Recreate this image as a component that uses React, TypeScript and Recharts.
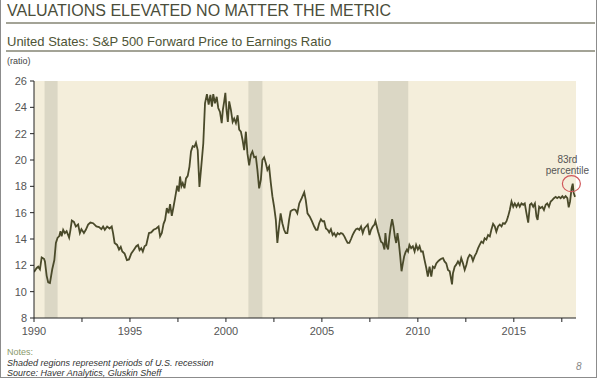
import React from "react";
import {
  LineChart,
  Line,
  XAxis,
  YAxis,
  CartesianGrid,
  ReferenceArea,
  ReferenceDot,
} from "recharts";

// forward P/E, split by decade
const years1990s = [
  1990.0, 1990.14, 1990.22, 1990.31, 1990.4, 1990.52, 1990.57, 1990.66, 1990.74, 1990.83,
  1990.95, 1991.06, 1991.14, 1991.23, 1991.31, 1991.38, 1991.44, 1991.52, 1991.61, 1991.7,
  1991.83, 1991.9, 1991.97, 1992.08, 1992.18, 1992.3, 1992.39, 1992.47, 1992.6, 1992.7,
  1992.82, 1992.94, 1993.08, 1993.25, 1993.39, 1993.51, 1993.6, 1993.69, 1993.81, 1993.94,
  1994.05, 1994.12, 1994.2, 1994.33, 1994.43, 1994.52, 1994.6, 1994.72, 1994.84, 1994.95,
  1995.07, 1995.19, 1995.33, 1995.42, 1995.5, 1995.59, 1995.67, 1995.76, 1995.85, 1995.99,
  1996.11, 1996.23, 1996.37, 1996.49, 1996.57, 1996.66, 1996.75, 1996.83, 1996.92, 1997.01,
  1997.09, 1997.18, 1997.27, 1997.35, 1997.46, 1997.54, 1997.61, 1997.68, 1997.75, 1997.84,
  1997.92, 1998.01, 1998.1, 1998.18, 1998.27, 1998.36, 1998.44, 1998.53, 1998.62, 1998.7,
  1998.82, 1998.91, 1999.01, 1999.1, 1999.19, 1999.27, 1999.34, 1999.43, 1999.52, 1999.6,
  1999.69, 1999.78, 1999.84, 1999.91, 1999.97,
];
const pe1990s = [
  11.5, 11.8, 11.9, 11.7, 12.6, 12.5, 12.3, 11.2, 10.7, 10.65,
  11.7, 12.4, 13.7, 14.1, 14.2, 14.6, 14.2, 14.7, 14.45, 14.6,
  14.1, 14.7, 15.4, 15.3, 14.95, 15.1, 14.45, 14.75, 14.45, 14.7,
  15.1, 15.25, 15.2, 14.95, 14.9, 14.75, 14.95, 14.7, 14.95, 14.8,
  14.95, 14.45, 13.7, 13.55, 13.2, 13.4, 13.05, 12.9, 12.4, 12.45,
  12.9, 13.15, 13.45, 13.55, 13.15, 13.3, 13.05, 13.45, 13.55, 14.45,
  14.5, 14.7, 14.8, 14.95, 14.2, 14.45, 15.15, 15.45, 16.35, 15.95,
  16.65, 15.75, 16.45, 17.1, 18.05, 17.6, 18.75, 18.0, 18.25, 17.85,
  18.6, 18.8, 19.5, 20.65, 21.05, 21.0, 21.3, 20.75, 17.95, 19.25,
  21.25, 24.3, 25.0, 24.2, 24.95, 24.05, 25.0, 24.3, 24.8, 23.95,
  23.65, 22.8, 23.8, 24.45, 25.1,
];

const years2000s = [
  2000.03, 2000.1, 2000.17, 2000.26, 2000.35, 2000.43, 2000.52, 2000.61, 2000.69, 2000.78,
  2000.87, 2000.95, 2001.04, 2001.12, 2001.21, 2001.3, 2001.38, 2001.47, 2001.56, 2001.64,
  2001.73, 2001.82, 2001.9, 2001.99, 2002.08, 2002.16, 2002.25, 2002.34, 2002.42, 2002.51,
  2002.6, 2002.68, 2002.77, 2002.85, 2002.94, 2003.03, 2003.11, 2003.2, 2003.29, 2003.37,
  2003.46, 2003.55, 2003.63, 2003.72, 2003.82, 2003.95, 2004.08, 2004.16, 2004.25, 2004.37,
  2004.48, 2004.6, 2004.69, 2004.77, 2004.86, 2004.95, 2005.03, 2005.12, 2005.21, 2005.3,
  2005.38, 2005.47, 2005.56, 2005.64, 2005.73, 2005.82, 2005.91, 2005.99, 2006.08, 2006.17,
  2006.25, 2006.34, 2006.43, 2006.52, 2006.6, 2006.69, 2006.78, 2006.86, 2006.95, 2007.04,
  2007.13, 2007.21, 2007.3, 2007.39, 2007.48, 2007.56, 2007.65, 2007.74, 2007.79, 2007.86,
  2007.93, 2008.0, 2008.08, 2008.17, 2008.26, 2008.31, 2008.38, 2008.45, 2008.52, 2008.59,
  2008.66, 2008.73, 2008.8, 2008.87, 2008.94, 2009.01, 2009.08, 2009.15, 2009.22, 2009.29,
  2009.36, 2009.43, 2009.49, 2009.56, 2009.65, 2009.74, 2009.83, 2009.91,
];
const pe2000s = [
  23.8, 22.9, 24.45, 23.8, 22.9, 23.15, 22.8, 23.4, 22.3, 22.15,
  21.5, 20.75, 22.15, 20.5, 19.6, 20.4, 20.65, 20.2, 20.25, 19.25,
  17.85, 18.5, 20.0, 20.2, 19.75, 19.25, 19.5, 18.25, 17.25, 16.45,
  15.45, 13.7, 14.95, 15.95, 15.2, 14.7, 14.45, 14.45, 15.45, 16.1,
  16.2, 16.25, 16.2, 15.95, 16.7, 17.1, 17.55, 16.95, 15.95, 15.7,
  15.35, 14.95, 14.7, 14.7, 15.2, 15.5, 15.35, 15.35, 14.8, 14.7,
  14.5, 14.75, 14.3, 14.45, 14.2, 14.45, 14.35, 14.45, 14.4, 14.2,
  13.95, 13.7, 13.7, 14.0, 14.3, 14.55, 14.75, 14.8, 14.7, 14.95,
  14.45, 14.8, 14.95, 15.1, 14.3, 14.7, 14.95, 15.1, 15.35, 14.95,
  14.55, 14.2, 13.8, 13.7, 13.2, 14.45, 13.45, 13.2, 14.2, 14.95,
  15.5, 14.95, 14.2, 13.7, 14.45, 13.7, 12.7, 11.55, 12.15, 12.7,
  13.0, 13.2, 13.05, 13.55, 13.3, 13.45, 13.05, 13.55,
];

const years2010s = [
  2010.0, 2010.09, 2010.17, 2010.26, 2010.35, 2010.44, 2010.52, 2010.61, 2010.7, 2010.78,
  2010.87, 2010.96, 2011.05, 2011.13, 2011.22, 2011.31, 2011.39, 2011.48, 2011.57, 2011.66,
  2011.71, 2011.78, 2011.83, 2011.92, 2012.0, 2012.09, 2012.18, 2012.26, 2012.35, 2012.44,
  2012.53, 2012.61, 2012.7, 2012.79, 2012.87, 2012.96, 2013.05, 2013.14, 2013.22, 2013.31,
  2013.4, 2013.48, 2013.57, 2013.66, 2013.75, 2013.83, 2013.92, 2014.01, 2014.09, 2014.18,
  2014.27, 2014.36, 2014.44, 2014.53, 2014.62, 2014.7, 2014.79, 2014.88, 2014.97, 2015.05,
  2015.14, 2015.23, 2015.31, 2015.4, 2015.49, 2015.57, 2015.66, 2015.75, 2015.84, 2015.92,
  2016.01, 2016.1, 2016.18, 2016.24, 2016.32, 2016.39, 2016.48, 2016.57, 2016.66, 2016.74,
  2016.83, 2016.92, 2017.0, 2017.09, 2017.18, 2017.26, 2017.35, 2017.44, 2017.53, 2017.61,
  2017.7, 2017.79, 2017.86, 2017.93, 2018.01, 2018.07, 2018.12, 2018.19,
];
const pe2010s = [
  13.2, 13.45, 13.05, 13.05, 12.4, 11.8, 11.15, 11.9, 11.15, 11.9,
  11.8, 12.15, 12.3, 12.4, 12.5, 12.55, 12.3, 12.15, 11.65, 11.55,
  11.15, 10.55, 11.4, 11.9, 12.05, 12.3, 12.05, 12.55, 12.15, 11.65,
  12.05, 12.55, 12.8, 12.7, 12.35, 12.7, 12.95, 13.3, 13.55, 13.8,
  13.7, 14.05, 13.95, 14.3, 14.2, 14.7, 15.15, 14.95, 14.55, 14.95,
  15.1, 14.95, 15.2, 15.15, 15.35, 15.7, 16.2, 16.85, 16.45, 16.7,
  16.45, 16.7, 16.45, 16.7, 16.6, 16.7, 15.95, 15.25, 16.6, 16.7,
  16.45, 16.7, 15.7, 15.45, 16.45, 16.35, 16.45, 16.2, 16.6, 16.7,
  16.45, 16.85, 16.95, 17.1, 17.2, 17.1, 17.2, 17.1, 17.25, 17.1,
  17.25, 17.1, 16.4, 16.85, 17.85, 18.2, 17.5, 17.2,
];

// US recessions (start / end, fractional year)
const recessionStarts = [1990.55, 2001.17, 2007.92];
const recessionEnds = [1991.23, 2001.9, 2009.5];

const yTicks = [8, 10, 12, 14, 16, 18, 20, 22, 24, 26];
const xTicks = [1990, 1992.5, 1995, 1997.5, 2000, 2002.5, 2005, 2007.5, 2010, 2012.5, 2015, 2017.5];

const latestYear = 2018.0;
const latestPe = 18.2;

const years = [...years1990s, ...years2000s, ...years2010s];
const pe = [...pe1990s, ...pe2000s, ...pe2010s];
const data = years.map((y, i) => ({ year: y, pe: pe[i] }));

const PercentileMarker = (props: any) => {
  const { cx, cy } = props;
  return (
    <g>
      <ellipse cx={cx} cy={cy} rx={9} ry={8} fill="none" stroke="#d0575a" strokeWidth={1.2} />
      <text x={cx - 4} y={cy - 21} textAnchor="middle" fontSize={10} fill="#555">
        83rd
      </text>
      <text x={cx - 4} y={cy - 10} textAnchor="middle" fontSize={10} fill="#555">
        percentile
      </text>
    </g>
  );
};

const App = () => {
  return (
    <div
      style={{
        position: "absolute",
        left: 0,
        top: 0,
        width: 600,
        height: 379,
        background: "#fff",
        fontFamily: "'Liberation Sans', Arial, sans-serif",
        overflow: "hidden",
      }}
    >
      <div
        style={{
          position: "absolute",
          left: 0,
          top: 0,
          width: 595,
          height: 377,
          borderLeft: "1px solid #8c8c8c",
          borderRight: "1px solid #8c8c8c",
          borderBottom: "1px solid #8c8c8c",
        }}
      />
      <div style={{ position: "absolute", left: 7, top: 2, fontSize: 16, lineHeight: "18px", color: "#4a4d3a", whiteSpace: "nowrap" }}>
        VALUATIONS ELEVATED NO MATTER THE METRIC
      </div>
      <div style={{ position: "absolute", left: 6, top: 22, width: 589, height: 2, background: "#a3a396" }} />
      <div style={{ position: "absolute", left: 7, top: 34, fontSize: 13, lineHeight: "15px", color: "#4e5436", whiteSpace: "nowrap" }}>
        United States: S&amp;P 500 Forward Price to Earnings Ratio
      </div>
      <div style={{ position: "absolute", left: 6, top: 50, width: 589, height: 2, background: "#a3a396" }} />
      <div style={{ position: "absolute", left: 7, top: 56, fontSize: 9, lineHeight: "10px", color: "#444" }}>(ratio)</div>

      <div style={{ position: "absolute", left: 0, top: 0 }}>
        <LineChart width={600} height={379} data={data} margin={{ top: 81, right: 24, bottom: 41, left: 4 }}>
          <CartesianGrid horizontal={false} vertical={false} fill="#f4eedb" stroke="none" />
          {recessionStarts.map((s, i) => (
            <ReferenceArea key={s} x1={s} x2={recessionEnds[i]} y1={8} y2={26} fill="#dbd7c5" fillOpacity={1} stroke="none" />
          ))}
          <XAxis
            dataKey="year"
            type="number"
            domain={[1990, 2018.24]}
            ticks={xTicks}
            interval={0}
            allowDataOverflow
            height={20}
            tickSize={4}
            tickMargin={5}
            stroke="#222"
            tick={{ fontSize: 11, fill: "#555" }}
            tickFormatter={(v) => (Number.isInteger(v) ? String(v) : "")}
          />
          <YAxis
            type="number"
            domain={[8, 26]}
            ticks={yTicks}
            interval={0}
            width={30}
            tickSize={4}
            tickMargin={3}
            stroke="#222"
            tick={{ fontSize: 11, fill: "#555" }}
          />
          <Line
            type="linear"
            dataKey="pe"
            stroke="#4a4a2a"
            strokeWidth={1.8}
            dot={false}
            isAnimationActive={false}
          />
          <ReferenceDot x={latestYear} y={latestPe} r={8} shape={PercentileMarker} />
        </LineChart>
      </div>

      <div style={{ position: "absolute", left: 7, top: 347, fontSize: 9, lineHeight: "11px", color: "#8a9a6c" }}>Notes:</div>
      <div style={{ position: "absolute", left: 7, top: 358, fontSize: 9, lineHeight: "11px", color: "#333", fontStyle: "italic" }}>
        Shaded regions represent periods of U.S. recession
      </div>
      <div style={{ position: "absolute", left: 7, top: 368, fontSize: 9, lineHeight: "11px", color: "#333", fontStyle: "italic" }}>
        Source: Haver Analytics, Gluskin Sheff
      </div>
      <div style={{ position: "absolute", left: 576, top: 361, fontSize: 10, lineHeight: "11px", color: "#888", fontStyle: "italic" }}>8</div>
    </div>
  );
};

export default App;
